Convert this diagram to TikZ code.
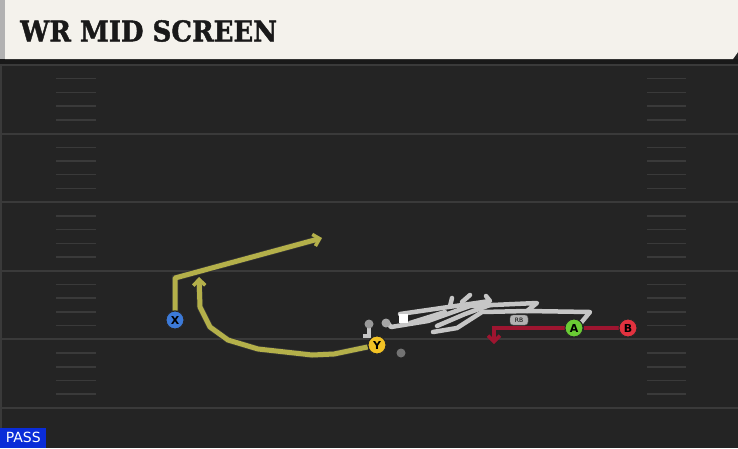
\documentclass[tikz,border=0pt]{standalone}
\usepackage{fontspec}
\setmainfont{DejaVu Sans}
\newfontfamily\titlefont{DejaVu Serif}[BoldFeatures={FakeBold=1.5}]
\usetikzlibrary{calc}
\usetikzlibrary{arrows.meta}

\definecolor{fieldbg}{HTML}{242424}
\definecolor{lineclr}{HTML}{3A3A3A}
\definecolor{titlebg}{HTML}{F4F2EC}
\definecolor{routeyel}{HTML}{B4B04A}
\definecolor{routered}{HTML}{9E1530}
\definecolor{scribble}{HTML}{C6C6C6}
\definecolor{xblue}{HTML}{3C7AD8}
\definecolor{yyellow}{HTML}{F2C224}
\definecolor{agreen}{HTML}{6ACC34}
\definecolor{bred}{HTML}{E2323F}
\definecolor{passblue}{HTML}{0A2CD8}

\begin{document}
\begin{tikzpicture}[x=1pt,y=-1pt,
  yardline/.style={draw=lineclr,line width=2pt},
  hashmark/.style={draw=lineclr,line width=1.5pt},
  player/.style={circle,draw=black!85,line width=1pt,inner sep=0pt,
    minimum size=18pt,font=\bfseries\fontsize{11}{11}\selectfont},
  route/.style={draw=routeyel,line width=5pt,line join=round,
    preaction={draw=black!80,line width=6.5pt}},
  block/.style={draw=scribble,line width=4.5pt,line join=round,line cap=round},
  tip/.style={-{Straight Barb[length=6pt,width=12pt,line width=3.5pt]}},
  dot/.style={circle,inner sep=0pt,minimum size=9pt}]
  % Boundary
  \useasboundingbox (0,0) rectangle (738,448);
  \fill[fieldbg] (0,0) rectangle (738,448);
  \fill[black!90] (0,59) rectangle (738,65);
  \fill[lineclr] (0,65) rectangle (2,448);
  % Title bar
  \fill[black!30] (0,0) rectangle (5,59);
  \fill[titlebg] (5,0) -- (738,0) -- (738,52) -- (733,59) -- (5,59) -- cycle;
  \node[anchor=west,font=\titlefont\bfseries\fontsize{26}{26}\selectfont,
    text=black!90,inner sep=0pt,yscale=1.1] (title) at (20,31) {WR MID SCREEN};
  % Yard lines and hashes
  \foreach \k in {0,...,5} {
    \pgfmathsetmacro\yy{65+68.6*\k}
    \draw[yardline] (0,\yy) -- (738,\yy);
  }
  \foreach \k in {0,...,4} {
    \foreach \j in {1,...,4} {
      \pgfmathsetmacro\hy{65+68.6*\k+13.7*\j}
      \draw[hashmark] (56,\hy) -- (96,\hy);
      \draw[hashmark] (647,\hy) -- (686,\hy);
    }
  }
  % Line
  \draw[block] (387,322) -- (391,327) -- (428,321) -- (470,306) -- (537,303)
    -- (527,311) -- (590,312) -- (580,324);
  \draw[block] (400,314) -- (490,301) -- (486,296);
  \draw[block] (433,332) -- (457,328) -- (482,312) -- (527,311);
  \draw[block] (437,326) -- (465,314) -- (490,305);
  \draw[block] (450,306) -- (452,298);
  \draw[block] (462,302) -- (470,295);
  \draw[block] (410,323) -- (445,312);
  \draw[draw=scribble,line width=3.5pt] (369,324) -- (369,336) -- (363,336);
  \node[dot,fill=black!40] (g1) at (369,324) {};
  \node[dot,fill=black!35] (g2) at (386,323) {};
  \node[dot,fill=black!55] (g3) at (401,353) {};
  \node[fill=white,minimum size=9pt,inner sep=0pt] (sq) at (403,318) {};
  \node[fill=black!30,draw=black!60,rounded corners=3pt,inner sep=0pt,
    minimum width=18pt,minimum height=10pt,
    font=\fontsize{6}{6}\selectfont] (rb) at (519,320) {RB};
  % Routes
  \coordinate (xc) at (175,278);
  \coordinate (xe) at (322,238);
  \coordinate (y1) at (334,354);
  \coordinate (y2) at (312,355);
  \coordinate (y3) at (258,349);
  \coordinate (y4) at (228,340);
  \coordinate (y5) at (210,327);
  \coordinate (y6) at (200,307);
  \coordinate (ye) at (199,277);
  \coordinate (rc) at (494,328);
  \coordinate (re) at (494,344);
  \node[player,fill=xblue] (X) at (175,320) {X};
  \node[player,fill=yyellow] (Y) at (377,345) {Y};
  \node[player,fill=agreen] (A) at (574,328) {A};
  \node[player,fill=bred] (B) at (628,328) {B};
  \draw[route,tip] (X) -- (xc) -- (xe);
  \draw[route,tip] (Y) -- (y1) -- (y2) -- (y3) -- (y4) -- (y5) -- (y6) -- (ye);
  \draw[draw=routered,line width=4.5pt,line join=miter,
    -{Straight Barb[length=6pt,width=12pt,line width=3.5pt]}]
    (B) -- (A) -- (rc) -- (re);
  \node[player,fill=agreen] at (A) {A};
  \node[player,fill=bred] at (B) {B};
  \node[player,fill=xblue] at (X) {X};
  \node[player,fill=yyellow] at (Y) {Y};
  % Play type
  \node[fill=passblue,text=white,anchor=south west,inner sep=0pt,
    minimum width=46pt,minimum height=20pt,
    font=\fontsize{14}{14}\selectfont] (pass) at (0,448) {PASS};
\end{tikzpicture}
\end{document}
